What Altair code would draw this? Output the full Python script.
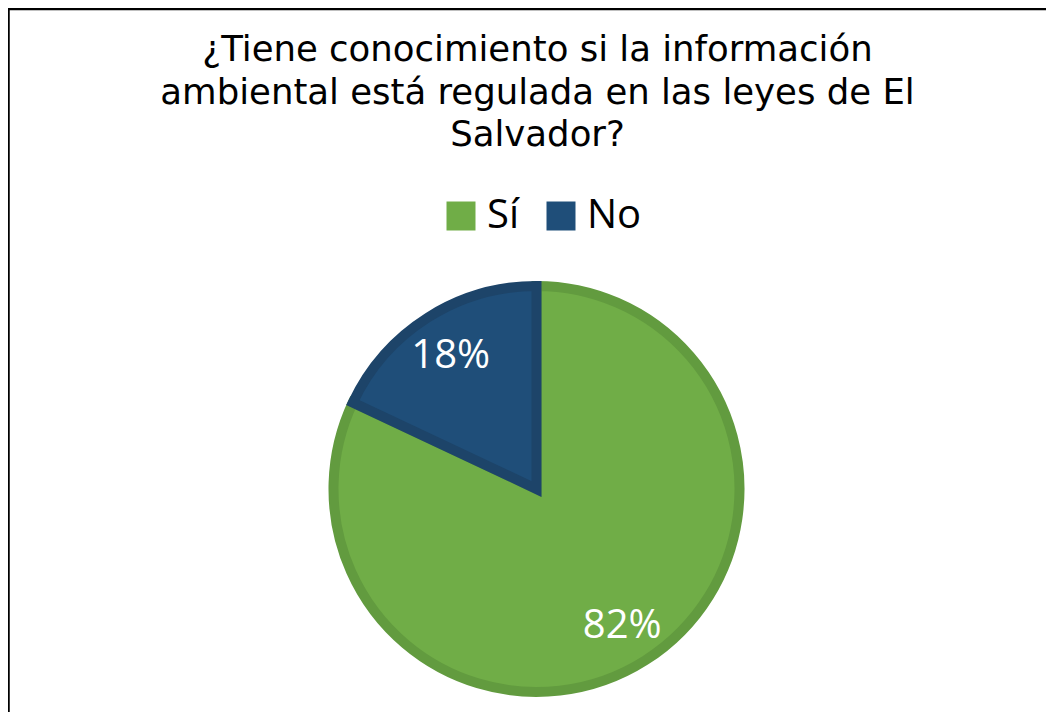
import altair as alt
import pandas as pd

categories = ["Sí", "No"]
values = [82, 18]
labels = ["82%", "18%"]
fill_colors = ["#70AD47", "#1F4E79"]
stroke_colors = ["#629B3F", "#1D4469"]
title_lines = [
    "¿Tiene conocimiento si la información",
    "ambiental está regulada en las leyes de El",
    "Salvador?",
]

W, H = 1038, 704
CX, CY = 528.5, 481
R = 208

df = pd.DataFrame({
    "cat": categories,
    "value": values,
    "label": labels,
    "idx": list(range(len(categories))),
})

base = alt.Chart(df).encode(
    theta=alt.Theta("value:Q", stack=True),
    order=alt.Order("idx:Q", sort="ascending"),
)

pie = base.mark_arc(radius=R - 5, strokeWidth=10, strokeJoin="miter").encode(
    x=alt.value(CX),
    y=alt.value(CY),
    color=alt.Color(
        "cat:N",
        scale=alt.Scale(domain=categories, range=fill_colors),
        sort=categories,
        legend=alt.Legend(
            orient="none",
            legendX=433,
            legendY=188,
            direction="horizontal",
            title=None,
            symbolType="square",
            symbolSize=841,
            symbolStrokeWidth=0,
            symbolOpacity=1,
            labelFont="Open Sans",
            labelFontSize=40,
            labelColor="black",
            labelOffset=6,
            columnPadding=21,
        ),
    ),
    stroke=alt.Stroke(
        "cat:N",
        scale=alt.Scale(domain=categories, range=stroke_colors),
        legend=None,
    ),
)

text = base.mark_text(
    radius=160, font="Open Sans", fontSize=40, color="white", baseline="middle", align="center"
).encode(
    x=alt.value(CX),
    y=alt.value(CY + 2),
    text="label:N",
)

title = alt.Chart(pd.DataFrame({"t": ["\n".join(title_lines)]})).mark_text(
    lineBreak="\n",
    lineHeight=42.5,
    font="DejaVu Sans",
    fontSize=35.5,
    color="black",
    align="center",
    baseline="alphabetic",
).encode(
    x=alt.value(529.5),
    y=alt.value(53),
    text="t:N",
)

one = pd.DataFrame({"a": [0]})
left_border = alt.Chart(one).mark_rule(color="black", strokeWidth=2.5).encode(
    x=alt.value(0.5), y=alt.value(0), y2=alt.value(H)
)
top_border = alt.Chart(one).mark_rule(color="black", strokeWidth=2.5).encode(
    x=alt.value(0), x2=alt.value(W), y=alt.value(1)
)

chart = alt.layer(left_border, top_border, pie, text, title).properties(
    width=W, height=H, padding=0, autosize="none", background="white"
).configure_view(stroke=None)

chart.save("out.html", embed_options={"renderer": "svg", "actions": False})
